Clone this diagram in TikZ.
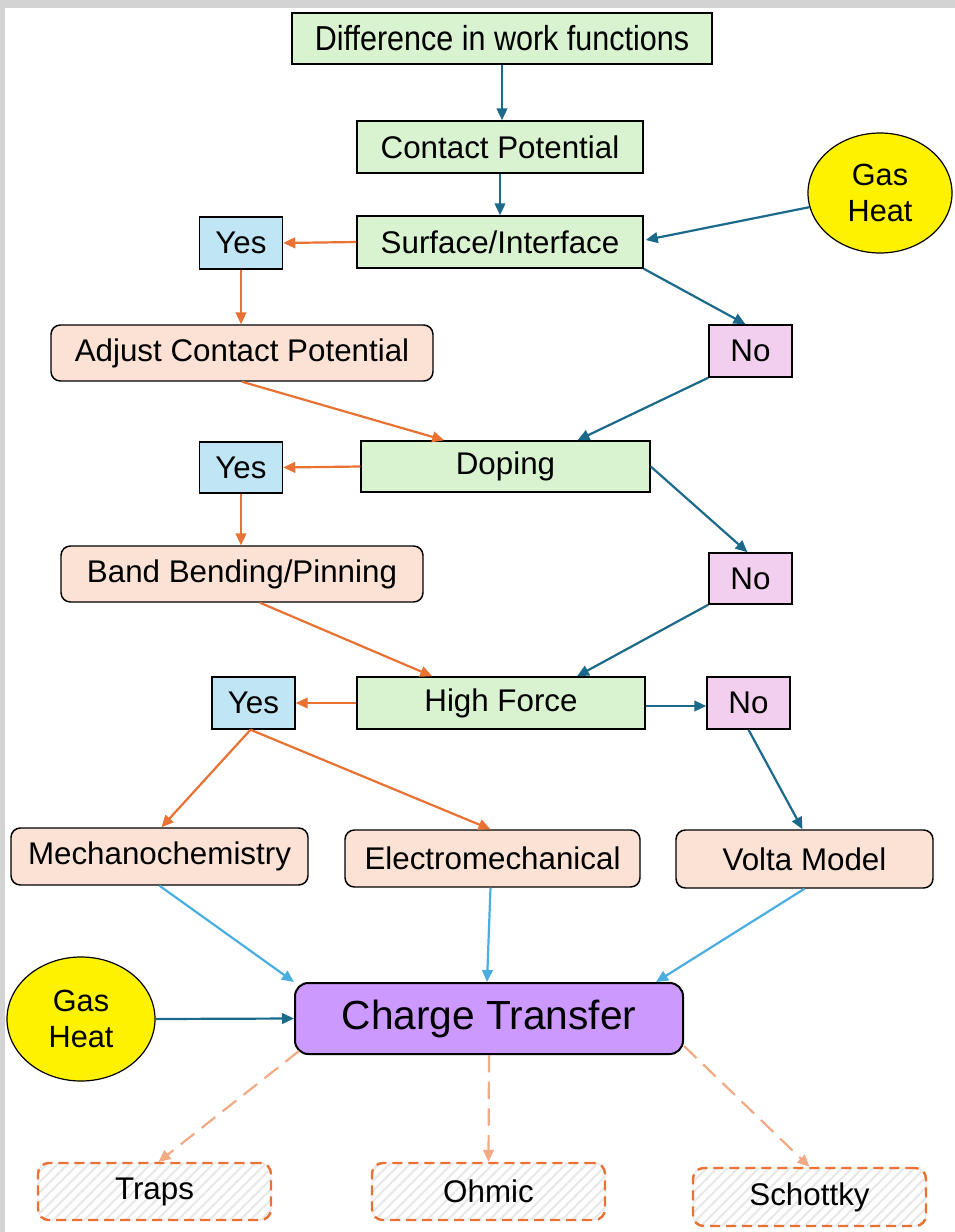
\documentclass[tikz,border=0pt]{standalone}
\usepackage{fontspec}
\setmainfont{Liberation Sans}
\usepackage{graphicx}
\usetikzlibrary{shapes.geometric,arrows.meta,calc,patterns.meta}
\definecolor{grn}{HTML}{D9F2D0}
\definecolor{blu}{HTML}{C0E6F5}
\definecolor{pnk}{HTML}{F2CFEE}
\definecolor{pch}{HTML}{FBE2D5}
\definecolor{pur}{HTML}{CC99FF}
\definecolor{tealc}{HTML}{1B6A8B}
\definecolor{orng}{HTML}{E97132}
\definecolor{lblu}{HTML}{4AAEE0}
\definecolor{lorng}{HTML}{F1AA84}
\definecolor{frame}{HTML}{D3D3D3}
\tikzset{
  sz/.style 2 args={minimum width=#1*0.75pt, minimum height=#2*0.75pt},
  base/.style={draw=black, line width=1.1pt, inner sep=0pt, font=\fontsize{23.5}{28}\selectfont, text=black},
  gbox/.style={base, fill=grn},
  ybox/.style={base, fill=blu},
  nbox/.style={base, fill=pnk},
  pbox/.style={base, fill=pch, rounded corners=7pt},
  cbox/.style={base, fill=pur, rounded corners=10pt, line width=1.5pt, font=\fontsize{30.5}{34}\selectfont},
  gasnode/.style={ellipse, draw=black, line width=0.9pt, fill=yellow, inner sep=0pt, align=center, font=\fontsize{23}{27}\selectfont},
  hbox/.style={draw=orng, line width=1.8pt, dash pattern=on 7.5pt off 4.5pt, rounded corners=8pt, inner sep=0pt,
    pattern={Lines[angle=45,distance=5.5pt,line width=1.6pt]}, pattern color=black!9,
    preaction={draw=black!12, line width=0.6pt, solid},
    font=\fontsize{23.5}{28}\selectfont},
  tarr/.style={draw=tealc, line width=1.65pt, -{Triangle[length=9pt,width=8pt]}},
  oarr/.style={draw=orng, line width=1.65pt, -{Triangle[length=9pt,width=8pt]}},
  barr/.style={draw=lblu, line width=1.65pt, -{Triangle[length=9pt,width=8pt]}},
  darr/.style={draw=lorng, line width=1.65pt, dash pattern=on 13pt off 7pt, -{Triangle[length=9pt,width=8pt]}},
}
\begin{document}
\begin{tikzpicture}[x=0.75pt, y=-0.75pt]
\useasboundingbox (0,0) rectangle (955,1232);
\fill[white] (0,0) rectangle (955,1232);
\fill[frame] (0,0) rectangle (955,8);
\fill[frame] (0,0) rectangle (5,1232);

% nodes
\node[gbox, sz={420}{51}] (diff) at (502,38.5) {\scalebox{0.88}[1]{\fontsize{26}{30}\selectfont Difference in work functions}};
\node[gbox, sz={286}{52}] (cp) at (500,147) {Contact Potential};
\node[gbox, sz={286}{52}] (surf) at (500,242) {Surface/Interface};
\node[ybox, sz={83}{52}] (yes1) at (241,243) {Yes};
\node[pbox, sz={382}{56}] (adj) at (242,353) {Adjust Contact Potential};
\node[nbox, sz={83}{52}] (no1) at (750.5,351) {No};
\node[gbox, sz={289}{51}] (dop) at (505.5,466.5) {Doping};
\node[ybox, sz={83}{51}] (yes2) at (241,467.5) {Yes};
\node[pbox, sz={362}{56}] (band) at (242,574) {Band Bending/Pinning};
\node[nbox, sz={83}{51}] (no2) at (750.5,578.5) {No};
\node[gbox, sz={288}{52}] (hf) at (501,703) {High Force};
\node[ybox, sz={83}{52}] (yes3) at (253.5,703) {Yes};
\node[nbox, sz={83}{52}] (no3) at (748.5,703) {No};
\node[pbox, sz={297}{57}] (mech) at (159.5,856.5) {Mechanochemistry};
\node[pbox, sz={295}{57}] (elec) at (492.5,858.5) {Electromechanical};
\node[pbox, sz={257}{58}] (volta) at (804.5,859) {Volta Model};
\node[cbox, sz={388}{71}] (ct) at (489,1018.5) {Charge Transfer};
\node[gasnode, minimum width=144*0.75pt, minimum height=120*0.75pt] (gas1) at (880,193) {Gas\\Heat};
\node[gasnode, minimum width=148*0.75pt, minimum height=124*0.75pt] (gas2) at (81,1019) {Gas\\Heat};
\node[hbox, sz={233}{57}] (traps) at (154.5,1191.5) {Traps};
\node[hbox, sz={233}{57}] (ohm) at (488.5,1191.5) {Ohmic};
\node[hbox, sz={233}{58}] (scho) at (809.5,1197) {Schottky};

% connectors
\draw[tarr] (diff.south) -- (diff.south |- cp.north);
\draw[tarr] (cp.south) -- (surf.north);
\draw[tarr] (gas1) -- ($(surf.east)+(2,-2)$);
\draw[oarr] (surf.west) -- (yes1.east);
\draw[oarr] (yes1.south) -- (yes1.south |- adj.north);
\draw[tarr] (surf.south east) -- ($(no1.north)+(-5,0)$);
\draw[oarr] (adj.south) -- ($(dop.north west)+(84,0)$);
\draw[tarr] (no1.south west) -- ($(dop.north)+(72,0)$);
\draw[oarr] (dop.west) -- (yes2.east);
\draw[oarr] (yes2.south) -- (yes2.south |- band.north);
\draw[tarr] (dop.east) -- ($(no2.north)+(-3,0)$);
\draw[oarr] ($(band.south)+(18,0)$) -- ($(hf.north west)+(76,0)$);
\draw[tarr] (no2.south west) -- ($(hf.north)+(76,0)$);
\draw[oarr] (hf.west) -- (yes3.east);
\draw[tarr] ($(hf.east)+(0,3)$) -- ($(no3.west)+(0,3)$);
\draw[oarr] ($(yes3.south)+(-3,0)$) -- ($(mech.north)+(2,0)$);
\draw[oarr] ($(yes3.south)+(-3,0)$) -- ($(elec.north)+(-2,0)$);
\draw[tarr] (no3.south) -- ($(volta.north)+(-2,0)$);
\draw[barr] (mech.south) -- (ct.north west);
\draw[barr] ($(elec.south)+(-2,0)$) -- ($(ct.north)+(-2,0)$);
\draw[barr] (volta.south) -- ($(ct.north east)+(-28,0)$);
\draw[tarr] (gas2.east) -- (ct.west);
\draw[darr] ($(ct.south west)+(5,-4)$) -- ($(traps.north)+(4,0)$);
\draw[darr] (ct.south) -- (ohm.north);
\draw[darr] ($(ct.south east)+(0,-9)$) -- (scho.north);
\end{tikzpicture}
\end{document}
